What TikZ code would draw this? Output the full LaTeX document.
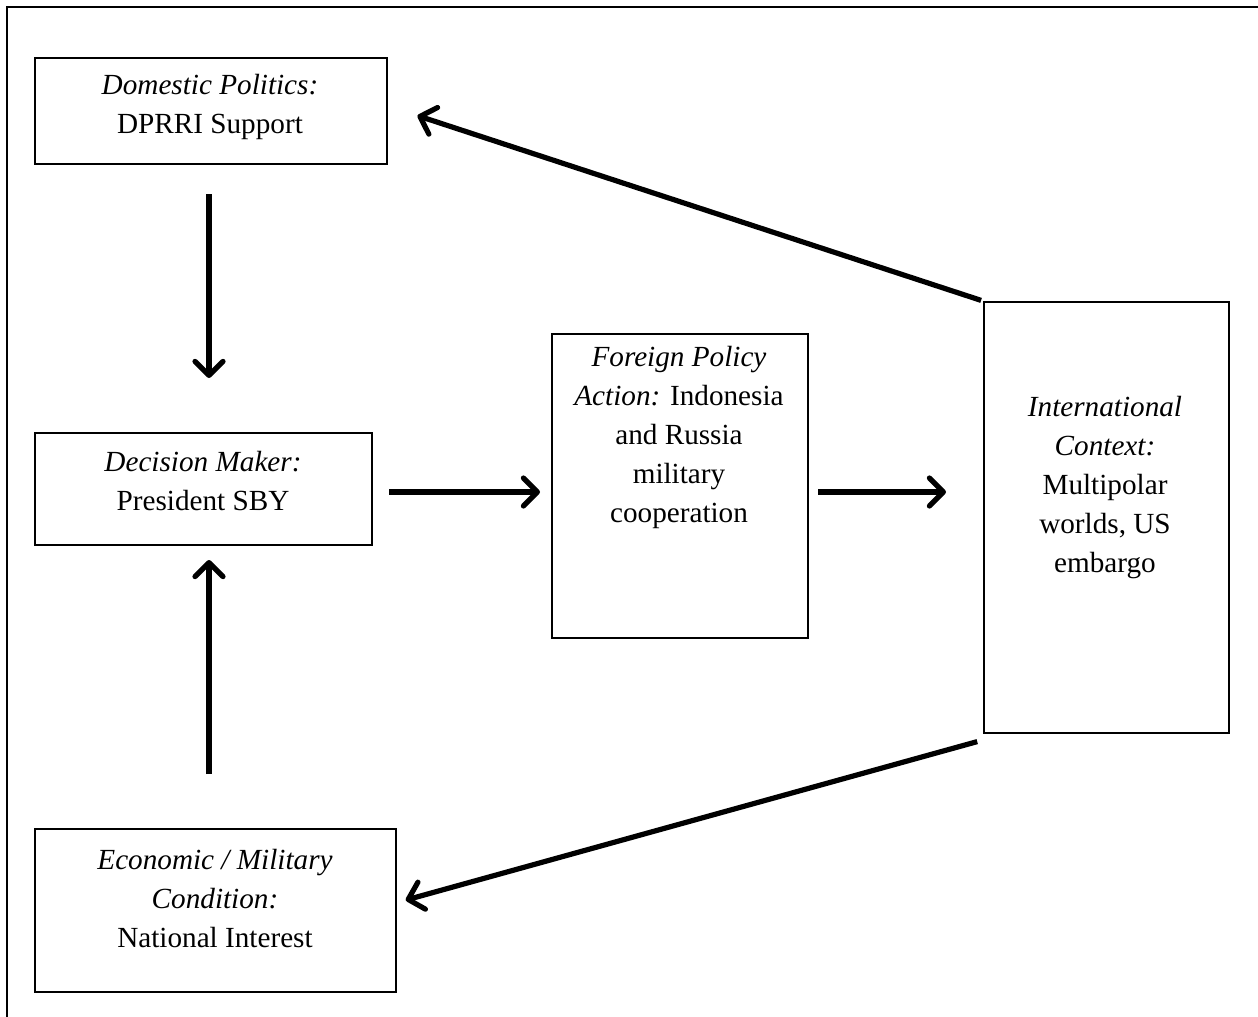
\documentclass[tikz,border=0pt]{standalone}
\usepackage{fontspec}
\setmainfont{Liberation Serif}
\usetikzlibrary{arrows.meta,calc}
\begin{document}
\begin{tikzpicture}[x=0.5pt,y=-0.5pt,
  box/.style={draw=black,line width=1pt,rectangle,inner sep=0pt,anchor=north west},
  txt/.style={align=center,inner sep=0pt,font=\fontsize{14.6pt}{19.5pt}\selectfont},
  arr/.style={line width=2.6pt,-{Straight Barb[length=7pt,width=14pt,line cap=round,line join=round]}}]
\useasboundingbox (0,0) rectangle (1258,1017);
% outer frame (only top and left edges visible)
\draw[line width=1.2pt] (7,1017) -- (7,7) -- (1258,7);
% boxes
\node[box,minimum width=176pt,minimum height=53pt] (dom) at (34,57) {};
\node[box,minimum width=168.5pt,minimum height=56pt] (dec) at (34,432) {};
\node[box,minimum width=180.5pt,minimum height=81.5pt] (eco) at (34,828) {};
\node[box,minimum width=128pt,minimum height=152pt] (fpa) at (551,333) {};
\node[box,minimum width=122.5pt,minimum height=215.5pt] (int) at (983,301) {};
% texts
\node[txt] (tdom) at (210,106.5) {\textit{Domestic Politics:}\\DPRRI Support};
\node[txt] (tdec) at (203,481) {\textit{Decision Maker:}\\President SBY};
\node[txt] (teco) at (215,898.5) {\textit{Economic / Military}\\\textit{Condition:}\\National Interest};
\node[txt] (tfpa) at (679,437) {\textit{Foreign Policy}\\\textit{Action:} Indonesia\\and Russia\\military\\cooperation};
\node[txt] (tint) at (1105,487.5) {\textit{International}\\\textit{Context:}\\Multipolar\\worlds, US\\embargo};
% connectors
\draw[arr,shorten <=14.5pt,shorten >=27pt] ([xshift=-1pt]dom.south) -- ([xshift=-1pt]dom.south |- dec.north);
\draw[arr,shorten <=27pt,shorten >=7pt] ([xshift=-1pt]dom.south |- eco.north) -- ([xshift=-1pt]dom.south |- dec.south);
\draw[arr,shorten <=8pt,shorten >=5.5pt] ([yshift=-1.5pt]dec.east) -- ([yshift=-1.5pt]dec.east -| fpa.west);
\draw[arr,shorten <=4.5pt,shorten >=18.5pt] ([yshift=-1.5pt]dec.east -| fpa.east) -- ([yshift=-1.5pt]dec.east -| int.west);
\draw[arr,shorten <=1pt,shorten >=15.5pt] (int.north west) -- ([yshift=2.5pt]dom.east);
\draw[arr,shorten <=3pt,shorten >=4.5pt] ([yshift=-3pt]int.south west) -- ([yshift=4pt]eco.east);
\end{tikzpicture}
\end{document}
